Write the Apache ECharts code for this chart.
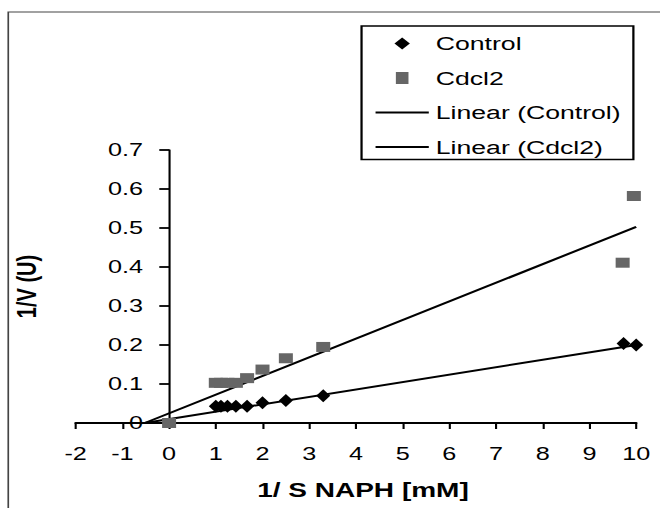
<!DOCTYPE html>
<html>
<head>
<meta charset="utf-8">
<script src="https://cdn.jsdelivr.net/npm/echarts@6/dist/echarts.min.js"></script>
<style>
  html, body { margin: 0; padding: 0; background: #fff; overflow: hidden; }
  /* the reference picture is stretched sideways, so draw narrow and stretch */
  #chart { width: 471px; height: 508px; transform: scaleX(1.4013); transform-origin: 0 0; }
</style>
</head>
<body>
<div id="chart"></div>
<script>
// Control (diamonds)
const controlX = [1.0, 1.11, 1.25, 1.43, 1.67, 2.0, 2.5, 3.3, 9.73, 10.0];
const controlY = [0.043, 0.043, 0.043, 0.043, 0.043, 0.052, 0.058, 0.07, 0.204, 0.2];
// Cdcl2 (squares)
const cdclX = [0, 1.0, 1.11, 1.25, 1.43, 1.67, 2.0, 2.5, 3.3, 9.71, 9.95];
const cdclY = [0.0, 0.103, 0.103, 0.103, 0.103, 0.115, 0.137, 0.166, 0.195, 0.411, 0.582];
// trend line end points
const fitX = [-0.52, 10];
const controlFitY = [0.0, 0.2];
const cdclFitY = [0.0, 0.503];

const legendNames = ['Control', 'Cdcl2', 'Linear (Control)', 'Linear (Cdcl2)'];

const zip = (xs, ys) => xs.map((x, i) => [x, ys[i]]);
const font = 'Liberation Sans';

const chart = echarts.init(document.getElementById('chart'), null, { renderer: 'svg' });

chart.setOption({
    animation: false,
    textStyle: { fontFamily: font },
    grid: { left: 54, right: 17, top: 150, bottom: 85, outerBoundsMode: 'none', containLabel: false },
    graphic: [{
        type: 'polyline',
        shape: { points: [[5.9, 600], [5.9, 12], [500, 12]] },
        style: { stroke: '#444', lineWidth: 1.2, fill: null }
    }],
    legend: {
        orient: 'vertical',
        left: 258,
        top: 26,
        padding: [8, 9, 3, 10],
        itemWidth: 38,
        itemHeight: 12,
        itemGap: 15.5,
        borderColor: '#000',
        borderWidth: 1.6,
        textStyle: { fontSize: 19, color: '#000', fontFamily: font },
        data: [
            { name: legendNames[0], icon: 'path://M5.5,0L11,6L5.5,12L0,6Z' },
            { name: legendNames[1], icon: 'path://M0,0h9v12h-9z' },
            { name: legendNames[2], icon: 'path://M0,0h38v1.8h-38z' },
            { name: legendNames[3], icon: 'path://M0,0h38v1.8h-38z' }
        ]
    },
    xAxis: {
        type: 'value',
        min: -2,
        max: 10,
        interval: 1,
        name: '1/ S NAPH [mM]',
        nameLocation: 'middle',
        nameGap: 57,
        nameTextStyle: { fontSize: 20, fontWeight: 'bold', color: '#000', padding: [0, 0, 0, 10] },
        axisLine: { onZero: true, lineStyle: { color: '#000', width: 2 } },
        axisTick: { length: 6, lineStyle: { color: '#000', width: 1.5 } },
        axisLabel: { fontSize: 18, color: '#000', margin: 22 },
        splitLine: { show: false }
    },
    yAxis: {
        type: 'value',
        min: 0,
        max: 0.7,
        interval: 0.1,
        name: '1/V (U)',
        nameLocation: 'middle',
        nameRotate: 90,
        // labels and name are laid out from the grid edge, the line sits at x = 0
        nameGap: 25,
        nameTextStyle: { fontSize: 20, fontWeight: 'bold', color: '#000' },
        axisLine: { show: true, onZero: true, lineStyle: { color: '#000', width: 1.5 } },
        axisTick: { show: true, length: 7, lineStyle: { color: '#000', width: 1.8 } },
        axisLabel: { fontSize: 18, color: '#000', margin: -48 },
        splitLine: { show: false }
    },
    series: [
        {
            name: legendNames[2],
            type: 'line',
            data: zip(fitX, controlFitY),
            showSymbol: false,
            color: '#000',
            lineStyle: { color: '#000', width: 2 },
            z: 1
        },
        {
            name: legendNames[3],
            type: 'line',
            data: zip(fitX, cdclFitY),
            showSymbol: false,
            color: '#000',
            lineStyle: { color: '#000', width: 2 },
            z: 1
        },
        {
            name: legendNames[0],
            type: 'scatter',
            symbol: 'diamond',
            symbolSize: [10, 13],
            data: zip(controlX, controlY),
            itemStyle: { color: '#000', opacity: 1 },
            z: 3
        },
        {
            name: legendNames[1],
            type: 'scatter',
            symbol: 'rect',
            symbolSize: [10, 10],
            data: zip(cdclX, cdclY),
            itemStyle: { color: '#666', opacity: 1 },
            z: 2
        }
    ]
});
</script>
</body>
</html>
